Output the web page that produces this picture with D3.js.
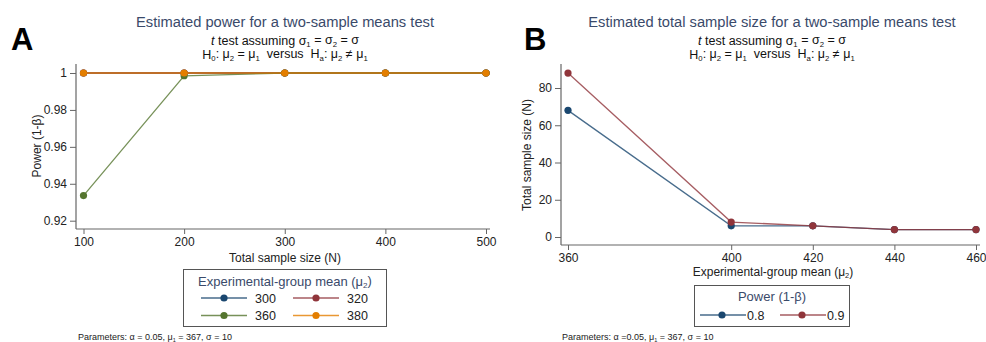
<!DOCTYPE html>
<html>
<head>
<meta charset="utf-8">
<script src="https://cdn.jsdelivr.net/npm/d3@7"></script>
<style>
  body { margin: 0; background: #fff; }
  svg { display: block; font-family: "Liberation Sans", Arial, sans-serif; }
</style>
</head>
<body>
<script>
// panel A data
let sampleSizes = [100, 200, 300, 400, 500];
let groupMeans = ["300", "320", "360", "380"];
let power300 = [1, 1, 1, 1, 1];
let power320 = [1, 1, 1, 1, 1];
let power360 = [0.9336, 0.9985, 1, 1, 1];
let power380 = [1, 1, 1, 1, 1];
let powerTicks = [0.92, 0.94, 0.96, 0.98, 1];

// panel B data
let expMeans = [360, 400, 420, 440, 460];
let powerLevels = ["0.8", "0.9"];
let size08 = [68, 6, 6, 4, 4];
let size09 = [88, 8, 6, 4, 4];
let sizeTicks = [0, 20, 40, 60, 80];

let colors = {navy: "#1a476f", maroon: "#90353b", green: "#55752f", orange: "#e37e00"};
let titleColor = "#3a4a6a";
let axisColor = "#666";

let svg = d3.select("body").append("svg")
    .attr("width", 986)
    .attr("height", 342);

function subLine(t, parts) {
    // parts: strings; "_x" means subscript x
    let down = false;
    parts.forEach(p => {
        if (p.startsWith("_")) {
            t.append("tspan").text(p.slice(1)).attr("font-size", "0.62em").attr("dy", "0.28em");
            down = true;
        } else {
            let ts = t.append("tspan").text(p);
            if (down) { ts.attr("dy", "-0.174em"); down = false; }
        }
    });
}

function header(cx, title) {
    svg.append("text")
        .attr("x", cx).attr("y", 27)
        .attr("text-anchor", "middle")
        .attr("font-size", 14.7)
        .attr("fill", titleColor)
        .text(title);
    let l1 = svg.append("text")
        .attr("x", cx).attr("y", 44.5)
        .attr("text-anchor", "middle")
        .attr("font-size", 12.5)
        .attr("fill", "#111");
    l1.append("tspan").attr("font-style", "italic").text("t");
    subLine(l1, [" test assuming σ", "_1", " = σ", "_2", " = σ"]);
    let l2 = svg.append("text")
        .attr("x", cx).attr("y", 58.5)
        .attr("text-anchor", "middle")
        .attr("font-size", 12.5)
        .attr("fill", "#111")
        .attr("xml:space", "preserve");
    subLine(l2, ["H", "_0", ": μ", "_2", " = μ", "_1", "  versus  H", "_a", ": μ", "_2", " ≠ μ", "_1"]);
}

function frame(g, x, y, left, top, bottom, right, xTicks, yTicks, yFmt) {
    g.append("line")
        .attr("x1", left).attr("x2", left).attr("y1", top).attr("y2", bottom)
        .attr("stroke", axisColor).attr("stroke-width", 1.2);
    g.append("line")
        .attr("x1", left).attr("x2", right).attr("y1", bottom).attr("y2", bottom)
        .attr("stroke", axisColor).attr("stroke-width", 1.2);
    let ya = g.append("g")
        .attr("transform", `translate(${left},0)`)
        .call(d3.axisLeft(y).tickValues(yTicks).tickSize(6).tickPadding(3).tickFormat(yFmt));
    ya.select(".domain").remove();
    let xa = g.append("g")
        .attr("transform", `translate(0,${bottom})`)
        .call(d3.axisBottom(x).tickValues(xTicks).tickSize(5).tickPadding(3));
    xa.select(".domain").remove();
    [ya, xa].forEach(a => {
        a.selectAll("line").attr("stroke", axisColor);
        a.selectAll("text").attr("font-size", 12).attr("fill", "#222")
            .attr("font-family", "Liberation Sans, Arial, sans-serif");
    });
}

function series(g, x, y, xs, ys, color) {
    let pts = xs.map((d, i) => [d, ys[i]]);
    g.append("path")
        .datum(pts)
        .attr("fill", "none")
        .attr("stroke", color)
        .attr("stroke-opacity", 0.8)
        .attr("stroke-width", 1.3)
        .attr("d", d3.line().x(d => x(d[0])).y(d => y(d[1])));
    g.selectAll(null)
        .data(pts)
        .join("circle")
        .attr("cx", d => x(d[0]))
        .attr("cy", d => y(d[1]))
        .attr("r", 3.6)
        .attr("fill", color);
}

function legendItem(g, x0, y0, color, label) {
    g.append("line")
        .attr("x1", x0).attr("x2", x0 + 46).attr("y1", y0).attr("y2", y0)
        .attr("stroke", color).attr("stroke-opacity", 0.8).attr("stroke-width", 1.3);
    g.append("circle").attr("cx", x0 + 23).attr("cy", y0).attr("r", 3.6).attr("fill", color);
    g.append("text")
        .attr("x", x0 + 54).attr("y", y0 + 4.5)
        .attr("font-size", 12.5).attr("fill", "#222")
        .text(label);
}

function panelLetter(x, y, t) {
    svg.append("text")
        .attr("x", x).attr("y", y)
        .attr("font-size", 31)
        .attr("font-weight", "bold")
        .attr("fill", "#000")
        .attr("font-family", "Liberation Sans, Arial, sans-serif")
        .text(t);
}

// ---------- Panel A ----------
panelLetter(11, 50, "A");
header(285, "Estimated power for a two-sample means test");

let gA = svg.append("g");
let xA = d3.scaleLinear([100, 500], [83.5, 486]);
let yA = d3.scaleLinear([0.92, 1], [220.7, 73]);
frame(gA, xA, yA, 76, 64, 229, 490, sampleSizes, powerTicks, d => d === 1 ? "1" : d3.format(".2f")(d));

series(gA, xA, yA, sampleSizes, power300, colors.navy);
series(gA, xA, yA, sampleSizes, power320, colors.maroon);
series(gA, xA, yA, sampleSizes, power360, colors.green);
series(gA, xA, yA, sampleSizes, power380, colors.orange);

svg.append("text")
    .attr("transform", "translate(41,146) rotate(-90)")
    .attr("text-anchor", "middle")
    .attr("font-size", 12).attr("fill", "#222")
    .text("Power (1-β)");
svg.append("text")
    .attr("x", 285).attr("y", 262)
    .attr("text-anchor", "middle")
    .attr("font-size", 12).attr("fill", "#222")
    .text("Total sample size (N)");

let legA = svg.append("g");
legA.append("rect")
    .attr("x", 183.5).attr("y", 269.5).attr("width", 203).attr("height", 57)
    .attr("fill", "#fff").attr("stroke", "#555").attr("stroke-width", 1);
let ltA = legA.append("text")
    .attr("x", 285).attr("y", 285.5)
    .attr("text-anchor", "middle")
    .attr("font-size", 13).attr("fill", titleColor);
subLine(ltA, ["Experimental-group mean (μ", "_2", ")"]);
let colA = [colors.navy, colors.maroon, colors.green, colors.orange];
groupMeans.forEach((m, i) => {
    legendItem(legA, i % 2 === 0 ? 201 : 293, i < 2 ? 298 : 315.5, colA[i], m);
});

let pA = svg.append("text")
    .attr("x", 78).attr("y", 340)
    .attr("font-size", 9).attr("fill", "#222");
subLine(pA, ["Parameters: α = 0.05, μ", "_1", " = 367, σ = 10"]);

// ---------- Panel B ----------
panelLetter(524, 50, "B");
header(772, "Estimated total sample size for a two-sample means test");

let gB = svg.append("g");
let xB = d3.scaleLinear([360, 460], [568, 976]);
let yB = d3.scaleLinear([0, 80], [237, 88]);
frame(gB, xB, yB, 561, 64, 245, 980, expMeans, sizeTicks, d => d);

series(gB, xB, yB, expMeans, size08, colors.navy);
series(gB, xB, yB, expMeans, size09, colors.maroon);

svg.append("text")
    .attr("transform", "translate(531,155) rotate(-90)")
    .attr("text-anchor", "middle")
    .attr("font-size", 12).attr("fill", "#222")
    .text("Total sample size (N)");
let xlB = svg.append("text")
    .attr("x", 773).attr("y", 276)
    .attr("text-anchor", "middle")
    .attr("font-size", 12).attr("fill", "#222");
subLine(xlB, ["Experimental-group mean (μ", "_2", ")"]);

let legB = svg.append("g");
legB.append("rect")
    .attr("x", 694.5).attr("y", 285.5).attr("width", 155).attr("height", 41)
    .attr("fill", "#fff").attr("stroke", "#555").attr("stroke-width", 1);
legB.append("text")
    .attr("x", 772).attr("y", 301)
    .attr("text-anchor", "middle")
    .attr("font-size", 13).attr("fill", titleColor)
    .text("Power (1-β)");
let colB = [colors.navy, colors.maroon];
powerLevels.forEach((p, i) => {
    let x0 = i === 0 ? 700 : 780;
    legB.append("line")
        .attr("x1", x0).attr("x2", x0 + 46).attr("y1", 315).attr("y2", 315)
        .attr("stroke", colB[i]).attr("stroke-opacity", 0.8).attr("stroke-width", 1.3);
    legB.append("circle").attr("cx", x0 + 22).attr("cy", 315).attr("r", 3.6).attr("fill", colB[i]);
    legB.append("text")
        .attr("x", x0 + 47).attr("y", 319.5)
        .attr("font-size", 12.5).attr("fill", "#222")
        .text(p);
});

let pB = svg.append("text")
    .attr("x", 562).attr("y", 340)
    .attr("font-size", 9).attr("fill", "#222");
subLine(pB, ["Parameters: α =0.05, μ", "_1", " = 367, σ = 10"]);
</script>
</body>
</html>
